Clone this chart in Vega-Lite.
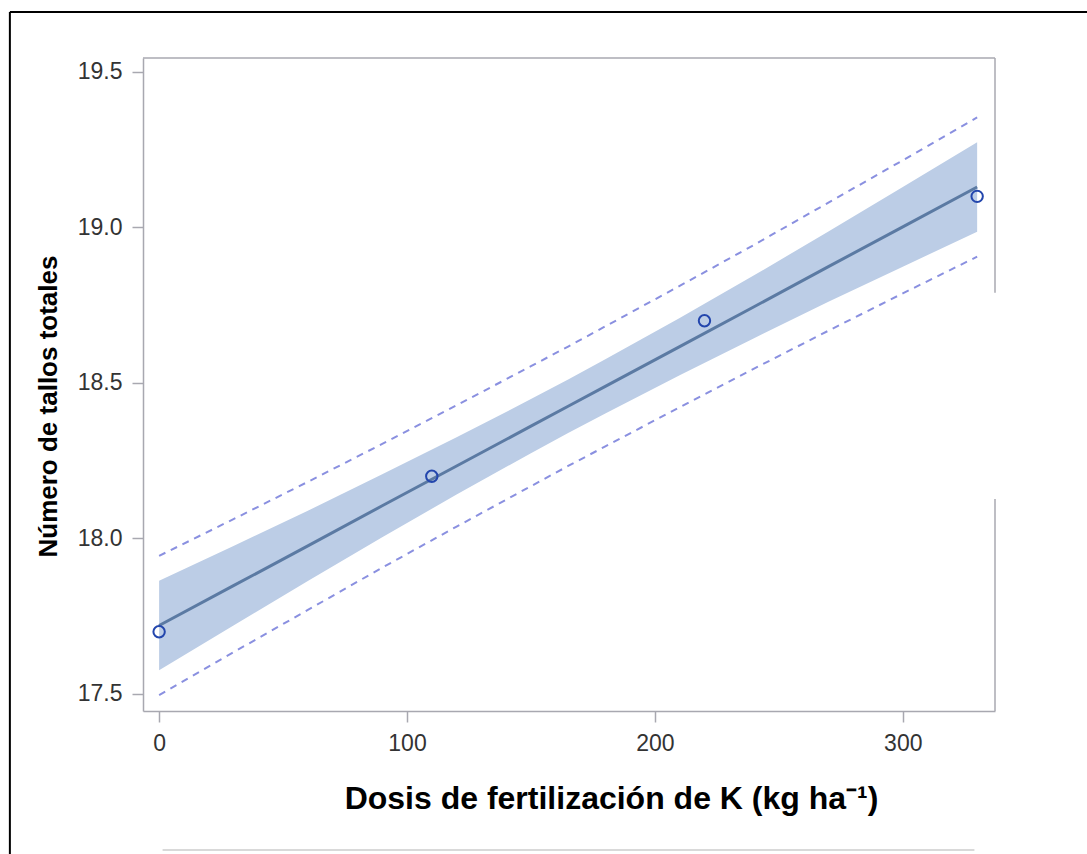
{
  "$schema": "https://vega.github.io/schema/vega-lite/v6.json",
  "width": 852,
  "height": 653,
  "autosize": {"type": "none"},
  "padding": {"left": 143, "top": 58, "right": 92, "bottom": 143},
  "background": "white",
  "config": {
    "view": {"stroke": null},
    "font": "Liberation Sans",
    "axis": {
      "grid": false,
      "domainColor": "#a8a8b0",
      "domainWidth": 1.5,
      "tickColor": "#a8a8b0",
      "tickWidth": 1.5,
      "tickSize": 11,
      "labelFont": "Liberation Sans",
      "labelFontSize": 23,
      "labelColor": "#333333",
      "labelPadding": 10,
      "titleFont": "Liberation Sans",
      "titleFontWeight": "bold",
      "titleColor": "#000000"
    },
    "axisX": {"titleFontSize": 32, "titlePadding": 28, "titleX": 468},
    "axisY": {"titleFontSize": 26, "titlePadding": 16, "labelPadding": 10, "titleY": 348}
  },
  "datasets": {
    "fit": [
      {"x": 0, "fit": 17.720, "lclm": 17.576, "uclm": 17.864, "lcl": 17.496, "ucl": 17.944},
      {"x": 30, "fit": 17.848, "lclm": 17.720, "uclm": 17.976, "lcl": 17.634, "ucl": 18.062},
      {"x": 60, "fit": 17.976, "lclm": 17.863, "uclm": 18.089, "lcl": 17.770, "ucl": 18.182},
      {"x": 90, "fit": 18.105, "lclm": 18.004, "uclm": 18.206, "lcl": 17.906, "ucl": 18.304},
      {"x": 120, "fit": 18.233, "lclm": 18.141, "uclm": 18.325, "lcl": 18.038, "ucl": 18.428},
      {"x": 150, "fit": 18.361, "lclm": 18.274, "uclm": 18.448, "lcl": 18.168, "ucl": 18.554},
      {"x": 165, "fit": 18.425, "lclm": 18.339, "uclm": 18.511, "lcl": 18.233, "ucl": 18.617},
      {"x": 180, "fit": 18.489, "lclm": 18.402, "uclm": 18.576, "lcl": 18.296, "ucl": 18.682},
      {"x": 210, "fit": 18.617, "lclm": 18.525, "uclm": 18.709, "lcl": 18.422, "ucl": 18.812},
      {"x": 240, "fit": 18.745, "lclm": 18.644, "uclm": 18.846, "lcl": 18.546, "ucl": 18.944},
      {"x": 270, "fit": 18.874, "lclm": 18.761, "uclm": 18.987, "lcl": 18.668, "ucl": 19.080},
      {"x": 300, "fit": 19.002, "lclm": 18.874, "uclm": 19.130, "lcl": 18.788, "ucl": 19.216},
      {"x": 330, "fit": 19.130, "lclm": 18.986, "uclm": 19.274, "lcl": 18.906, "ucl": 19.354}
    ],
    "obs": [
      {"x": 0, "y": 17.7},
      {"x": 110, "y": 18.2},
      {"x": 220, "y": 18.7},
      {"x": 330, "y": 19.1}
    ]
  },
  "layer": [
    {
      "data": {"name": "fit"},
      "mark": {"type": "area", "color": "#bccde6", "opacity": 1},
      "encoding": {
        "x": {"field": "x", "type": "quantitative", "scale": {"domain": [-6.5, 337.2], "nice": false, "zero": false}, "title": "Dosis de fertilización de K (kg ha⁻¹)", "axis": {"values": [0, 100, 200, 300]}},
        "y": {"field": "lclm", "type": "quantitative", "scale": {"domain": [17.445, 19.545], "nice": false, "zero": false}, "title": "Número de tallos totales", "axis": {"values": [17.5, 18, 18.5, 19, 19.5], "format": ".1f"}},
        "y2": {"field": "uclm"}
      }
    },
    {
      "data": {"name": "fit"},
      "mark": {"type": "line", "color": "#8a90e0", "strokeWidth": 2, "strokeDash": [7, 6]},
      "encoding": {
        "x": {"field": "x", "type": "quantitative", "title": "Dosis de fertilización de K (kg ha⁻¹)"},
        "y": {"field": "lcl", "type": "quantitative", "title": "Número de tallos totales"}
      }
    },
    {
      "data": {"name": "fit"},
      "mark": {"type": "line", "color": "#8a90e0", "strokeWidth": 2, "strokeDash": [7, 6]},
      "encoding": {
        "x": {"field": "x", "type": "quantitative", "title": "Dosis de fertilización de K (kg ha⁻¹)"},
        "y": {"field": "ucl", "type": "quantitative", "title": "Número de tallos totales"}
      }
    },
    {
      "data": {"name": "fit"},
      "mark": {"type": "line", "color": "#5b7aa3", "strokeWidth": 3},
      "encoding": {
        "x": {"field": "x", "type": "quantitative", "title": "Dosis de fertilización de K (kg ha⁻¹)"},
        "y": {"field": "fit", "type": "quantitative", "title": "Número de tallos totales"}
      }
    },
    {
      "data": {"name": "obs"},
      "mark": {"type": "point", "shape": "circle", "filled": false, "color": "#2346ad", "strokeWidth": 2, "size": 130, "opacity": 1},
      "encoding": {
        "x": {"field": "x", "type": "quantitative", "title": "Dosis de fertilización de K (kg ha⁻¹)"},
        "y": {"field": "y", "type": "quantitative", "title": "Número de tallos totales"}
      }
    },
    {
      "data": {"values": [{}]},
      "mark": {"type": "rule", "color": "#a8a8b0", "strokeWidth": 1.5},
      "encoding": {
        "x": {"datum": -6.5, "type": "quantitative", "title": "Dosis de fertilización de K (kg ha⁻¹)"},
        "x2": {"datum": 337.2},
        "y": {"datum": 19.545, "type": "quantitative", "title": "Número de tallos totales"}
      }
    },
    {
      "data": {"values": [{}]},
      "mark": {"type": "rule", "color": "#a8a8b0", "strokeWidth": 1.5},
      "encoding": {
        "x": {"datum": 337.2, "type": "quantitative", "title": "Dosis de fertilización de K (kg ha⁻¹)"},
        "y": {"datum": 19.545, "type": "quantitative", "title": "Número de tallos totales"},
        "y2": {"datum": 18.79}
      }
    },
    {
      "data": {"values": [{}]},
      "mark": {"type": "rule", "color": "#a8a8b0", "strokeWidth": 1.5},
      "encoding": {
        "x": {"datum": 337.2, "type": "quantitative", "title": "Dosis de fertilización de K (kg ha⁻¹)"},
        "y": {"datum": 18.127, "type": "quantitative", "title": "Número de tallos totales"},
        "y2": {"datum": 17.445}
      }
    },
    {
      "data": {"values": [{}]},
      "mark": {"type": "rule", "color": "#000000", "strokeWidth": 2},
      "encoding": {
        "x": {"datum": -60.2, "type": "quantitative", "title": "Dosis de fertilización de K (kg ha⁻¹)"},
        "x2": {"datum": 380},
        "y": {"datum": 19.693, "type": "quantitative", "title": "Número de tallos totales"}
      }
    },
    {
      "data": {"values": [{}]},
      "mark": {"type": "rule", "color": "#000000", "strokeWidth": 2},
      "encoding": {
        "x": {"datum": -60.2, "type": "quantitative", "title": "Dosis de fertilización de K (kg ha⁻¹)"},
        "y": {"datum": 19.693, "type": "quantitative", "title": "Número de tallos totales"},
        "y2": {"datum": 16.9}
      }
    },
    {
      "data": {"values": [{}]},
      "mark": {"type": "rule", "color": "#d9d9d9", "strokeWidth": 2},
      "encoding": {
        "x": {"datum": 1.4, "type": "quantitative", "title": "Dosis de fertilización de K (kg ha⁻¹)"},
        "x2": {"datum": 328.9},
        "y": {"datum": 16.998, "type": "quantitative", "title": "Número de tallos totales"}
      }
    }
  ]
}
